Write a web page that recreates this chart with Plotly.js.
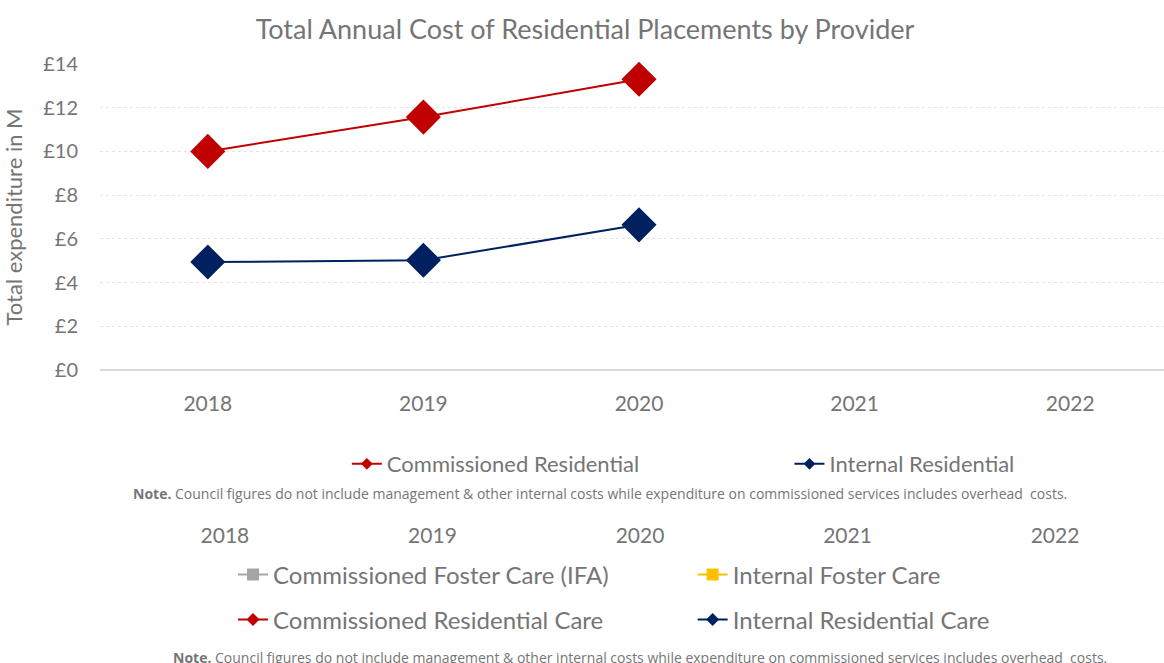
<!DOCTYPE html>
<html>
<head>
<meta charset="utf-8">
<script src="https://cdn.plot.ly/plotly-3.0.1.min.js"></script>
<style>html,body{margin:0;padding:0;background:#fff;}#chart{width:1164px;height:663px;}</style>
</head>
<body>
<div id="chart"></div>
<script>
const years = [2018, 2019, 2020, 2021, 2022];
const yearLabels = ['2018', '2019', '2020', '2021', '2022'];
const commissionedResidential = [10.0, 11.57, 13.3, null, null];
const internalResidential = [4.94, 5.02, 6.64, null, null];
const commissionedFosterCare = [null, null, null, null, null];
const internalFosterCare = [null, null, null, null, null];
const commissionedResidentialCare = [null, null, null, null, null];
const internalResidentialCare = [null, null, null, null, null];
const noValues = [null, null, null, null, null];
const yTickVals = [0, 2, 4, 6, 8, 10, 12, 14];
const yTickText = ['£0', '£2', '£4', '£6', '£8', '£10', '£12', '£14'];
const noteText = '<b>Note.</b> Council figures do not include management &amp; other internal costs while expenditure on commissioned services includes overhead  costs.';

const RED = '#C00000', NAVY = '#002060', GREY = '#A5A5A5', GOLD = '#FFC000';
const TXT = '#757575';
const FONT = 'Lato, "Open Sans", sans-serif';

// legend entry (small symbol) for a series
function legendEntry(y, name, color, symbol, size, legend, group) {
  return {x: years, y: y, name: name, mode: 'lines+markers', legend: legend, hoverinfo: 'skip',
          legendgroup: group, line: {color: color, width: 2}, marker: {symbol: symbol, size: size, color: color}};
}

const traces = [
  {x: years, y: commissionedResidential, name: 'Commissioned Residential', mode: 'lines+markers', showlegend: false,
   legendgroup: 'cr', line: {color: RED, width: 2}, marker: {symbol: 'diamond', size: 27, color: RED}, cliponaxis: false},
  {x: years, y: internalResidential, name: 'Internal Residential', mode: 'lines+markers', showlegend: false,
   legendgroup: 'ir', line: {color: NAVY, width: 2}, marker: {symbol: 'diamond', size: 27, color: NAVY}, cliponaxis: false},
  {x: years, y: noValues, xaxis: 'x2', yaxis: 'y2', showlegend: false, hoverinfo: 'skip', mode: 'lines'},
  legendEntry(noValues, 'Commissioned Residential', RED, 'diamond', 9, 'legend', 'cr'),
  legendEntry(noValues, 'Internal Residential', NAVY, 'diamond', 9, 'legend2', 'ir'),
  legendEntry(commissionedFosterCare, 'Commissioned Foster Care (IFA)', GREY, 'square', 12, 'legend3', 'cfc'),
  legendEntry(internalFosterCare, 'Internal Foster Care', GOLD, 'square', 12, 'legend4', 'ifc'),
  legendEntry(commissionedResidentialCare, 'Commissioned Residential Care', RED, 'diamond', 10, 'legend5', 'crc'),
  legendEntry(internalResidentialCare, 'Internal Residential Care', NAVY, 'diamond', 10, 'legend6', 'irc')
];

function leg(x, y, size) {
  return {orientation: 'h', x: x, xanchor: 'left', y: y, yanchor: 'middle', itemsizing: 'trace',
          font: {size: size, color: TXT, family: FONT}, bgcolor: 'rgba(0,0,0,0)', borderwidth: 0};
}

// paper area: top 64px, bottom 653px -> height 589; plot left 100px -> width 1064
const layout = {
  width: 1164, height: 663,
  margin: {l: 100, r: 0, t: 64, b: 10},
  paper_bgcolor: '#fff', plot_bgcolor: '#fff',
  font: {family: FONT, color: TXT},
  title: {text: 'Total Annual Cost of Residential Placements by Provider',
          font: {size: 27, color: TXT, family: FONT}, x: 0.5026, xanchor: 'center', y: 0.956, yanchor: 'middle'},
  xaxis: {range: [2017.5, 2022.435], tickvals: years, ticktext: yearLabels, showgrid: false, zeroline: false,
          showline: false, ticks: '', tickfont: {size: 21, color: TXT}, ticklabelstandoff: 19, fixedrange: true},
  yaxis: {domain: [0.4805, 1], range: [0, 14], tickvals: yTickVals, ticktext: yTickText,
          showgrid: true, gridcolor: '#e3e3e3', griddash: 'dot', gridwidth: 1,
          zeroline: true, zerolinecolor: '#d9d9d9', zerolinewidth: 2, showline: false, ticks: '',
          tickfont: {size: 20, color: TXT}, ticklabelstandoff: 21,
          title: {text: 'Total expenditure in M', font: {size: 22, color: TXT}, standoff: 14}},
  xaxis2: {range: [2017.398, 2022.525], tickvals: years, ticktext: yearLabels, anchor: 'y2', showgrid: false,
           zeroline: false, showline: false, ticks: '', tickfont: {size: 21, color: TXT}, fixedrange: true},
  yaxis2: {domain: [0.2246, 0.2346], range: [0, 1], visible: false, fixedrange: true},
  showlegend: true,
  legend: leg(0.232, 0.3209, 22),
  legend2: leg(0.648, 0.3209, 22),
  legend3: leg(0.125, 0.1324, 24),
  legend4: leg(0.557, 0.1324, 24),
  legend5: leg(0.125, 0.056, 24),
  legend6: leg(0.557, 0.056, 24),
  annotations: [
    {text: noteText, xref: 'paper', yref: 'paper', x: 0.47, y: 0.27, xanchor: 'center', yanchor: 'middle',
     showarrow: false, font: {size: 14, color: TXT, family: '"Open Sans", sans-serif'}},
    {text: noteText, xref: 'paper', yref: 'paper', x: 0.5075, y: -0.007, xanchor: 'center', yanchor: 'middle',
     showarrow: false, font: {size: 14, color: TXT, family: '"Open Sans", sans-serif'}}
  ]
};

Plotly.newPlot('chart', traces, layout, {displayModeBar: false, staticPlot: true});
</script>
</body>
</html>
